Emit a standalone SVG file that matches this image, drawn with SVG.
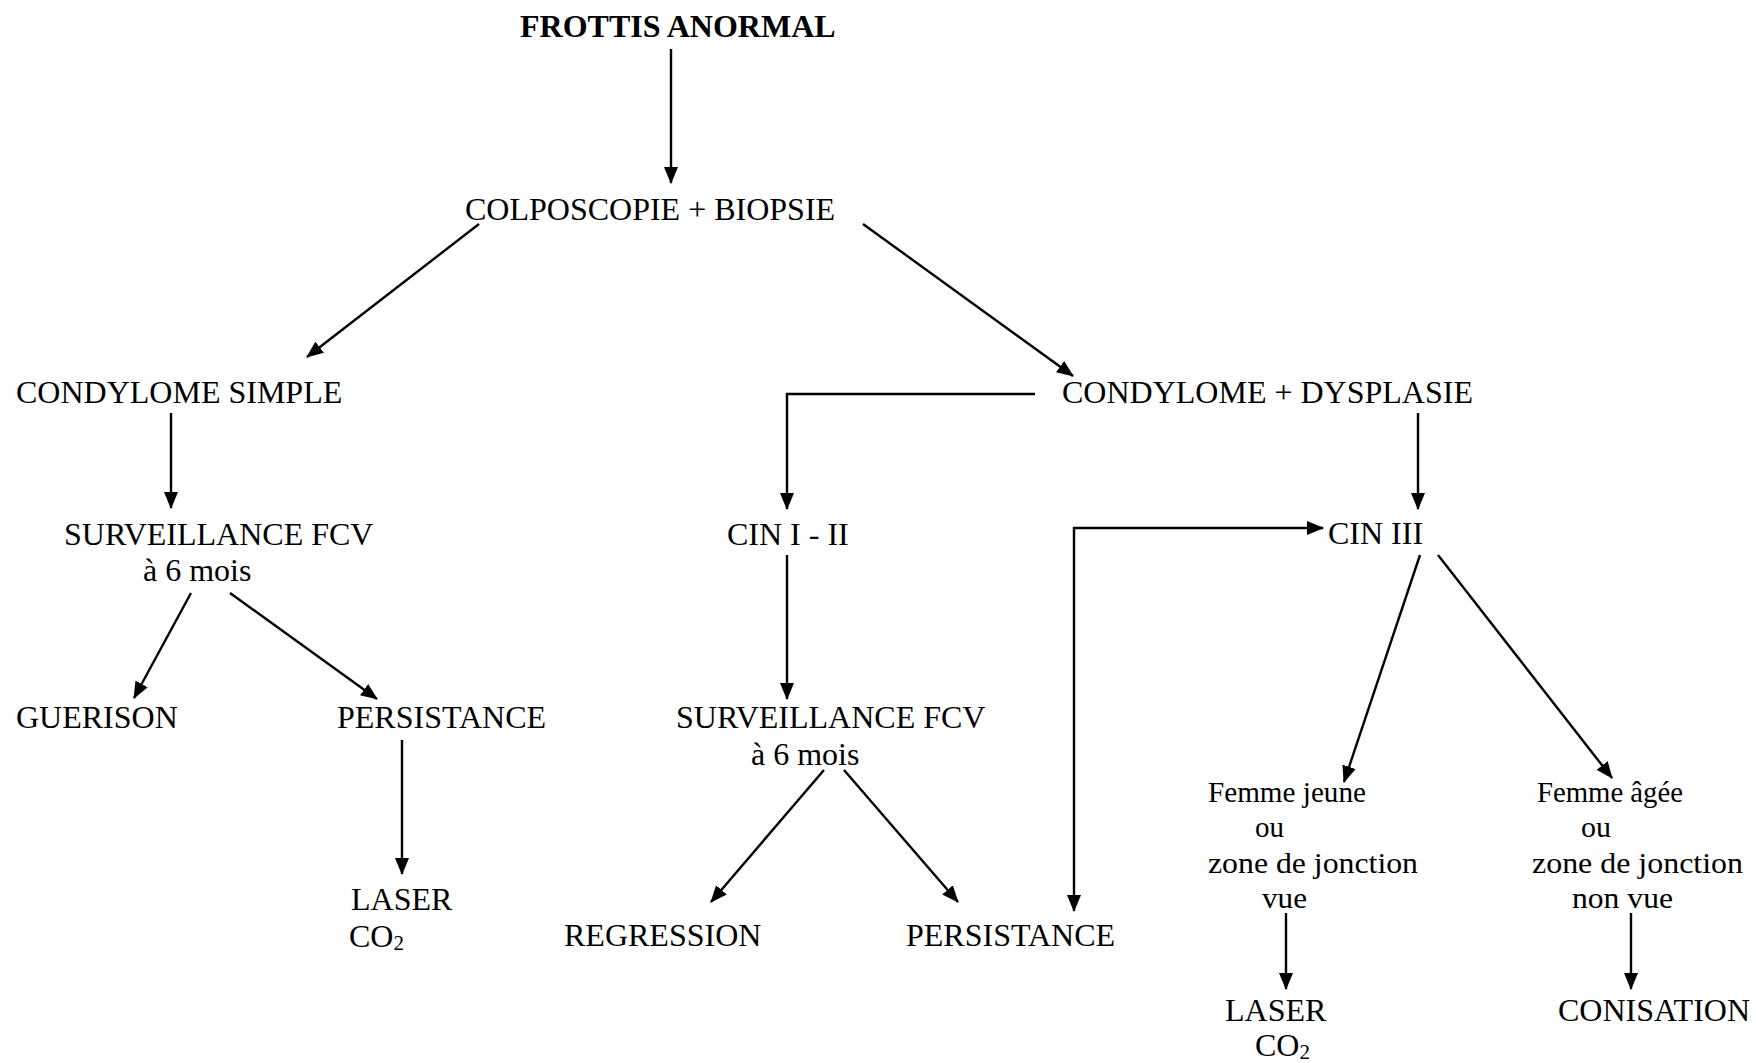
<svg xmlns="http://www.w3.org/2000/svg" width="1756" height="1063" viewBox="0 0 1756 1063">
  <style>
    text { font-family: "Liberation Serif", "Times New Roman", serif; font-size: 32px; fill: #000; }
    .title { font-weight: bold; }
    .small { font-size: 29px; }
    .sub { font-size: 21px; }
    .link { fill: none; stroke: #000; stroke-width: 2.4; }
  </style>
  <defs>
    <marker id="arrow" markerUnits="userSpaceOnUse" markerWidth="17" markerHeight="14" refX="16" refY="7" orient="auto-start-reverse">
      <path d="M0,0 L17,7 L0,14 z" fill="#000"/>
    </marker>
  </defs>

  <rect width="1756" height="1063" fill="#fff"/>

  <!-- connectors -->
  <g id="connectors" class="link" marker-end="url(#arrow)">
    <line x1="671" y1="49" x2="671" y2="183"/>
    <line x1="479" y1="224" x2="307" y2="357"/>
    <line x1="863" y1="224" x2="1073" y2="376"/>
    <line x1="171" y1="413" x2="171" y2="508"/>
    <line x1="191" y1="593" x2="134" y2="698"/>
    <line x1="230" y1="593" x2="377" y2="699"/>
    <line x1="402" y1="740" x2="402" y2="874"/>
    <polyline points="1035,394 787,394 787,509"/>
    <line x1="787" y1="555" x2="787" y2="699"/>
    <line x1="824" y1="770" x2="711" y2="902"/>
    <line x1="844" y1="770" x2="958" y2="902"/>
    <polyline points="1074,911 1074,528 1323,528" marker-start="url(#arrow)"/>
    <line x1="1418" y1="413" x2="1418" y2="509"/>
    <line x1="1420" y1="555" x2="1344" y2="782"/>
    <line x1="1438" y1="555" x2="1612" y2="778"/>
    <line x1="1286" y1="913" x2="1286" y2="989"/>
    <line x1="1631" y1="913" x2="1631" y2="989"/>
  </g>

  <!-- nodes -->
  <g id="frottis"><text class="title" x="520" y="37">FROTTIS ANORMAL</text></g>
  <g id="colposcopie"><text x="465" y="220">COLPOSCOPIE + BIOPSIE</text></g>
  <g id="condylome-simple"><text x="16" y="403">CONDYLOME SIMPLE</text></g>
  <g id="condylome-dysplasie"><text x="1062" y="403">CONDYLOME + DYSPLASIE</text></g>
  <g id="surveillance-1">
    <text x="64" y="545">SURVEILLANCE FCV</text>
    <text x="143" y="581">à 6 mois</text>
  </g>
  <g id="cin-1-2"><text x="727" y="545">CIN I - II</text></g>
  <g id="cin-3"><text x="1328" y="544">CIN III</text></g>
  <g id="guerison"><text x="16" y="728">GUERISON</text></g>
  <g id="persistance-1"><text x="337" y="728">PERSISTANCE</text></g>
  <g id="surveillance-2">
    <text x="676" y="728">SURVEILLANCE FCV</text>
    <text x="751" y="765">à 6 mois</text>
  </g>
  <g id="laser-1">
    <text x="351" y="910">LASER</text>
    <text x="349" y="947">CO<tspan class="sub" dy="3">2</tspan></text>
  </g>
  <g id="regression"><text x="564" y="946">REGRESSION</text></g>
  <g id="persistance-2"><text x="906" y="946">PERSISTANCE</text></g>
  <g id="femme-jeune">
    <text class="small" x="1208" y="802" textLength="158" lengthAdjust="spacingAndGlyphs">Femme jeune</text>
    <text class="small" x="1255" y="837" textLength="29" lengthAdjust="spacingAndGlyphs">ou</text>
    <text class="small" x="1208" y="873" textLength="210" lengthAdjust="spacingAndGlyphs">zone de jonction</text>
    <text class="small" x="1262" y="908" textLength="45" lengthAdjust="spacingAndGlyphs">vue</text>
  </g>
  <g id="femme-agee">
    <text class="small" x="1537" y="802" textLength="146" lengthAdjust="spacingAndGlyphs">Femme âgée</text>
    <text class="small" x="1581" y="837" textLength="30" lengthAdjust="spacingAndGlyphs">ou</text>
    <text class="small" x="1532" y="873" textLength="211" lengthAdjust="spacingAndGlyphs">zone de jonction</text>
    <text class="small" x="1572" y="908" textLength="101" lengthAdjust="spacingAndGlyphs">non vue</text>
  </g>
  <g id="laser-2">
    <text x="1225" y="1021">LASER</text>
    <text x="1255" y="1056">CO<tspan class="sub" dy="3">2</tspan></text>
  </g>
  <g id="conisation"><text x="1558" y="1021">CONISATION</text></g>
</svg>
